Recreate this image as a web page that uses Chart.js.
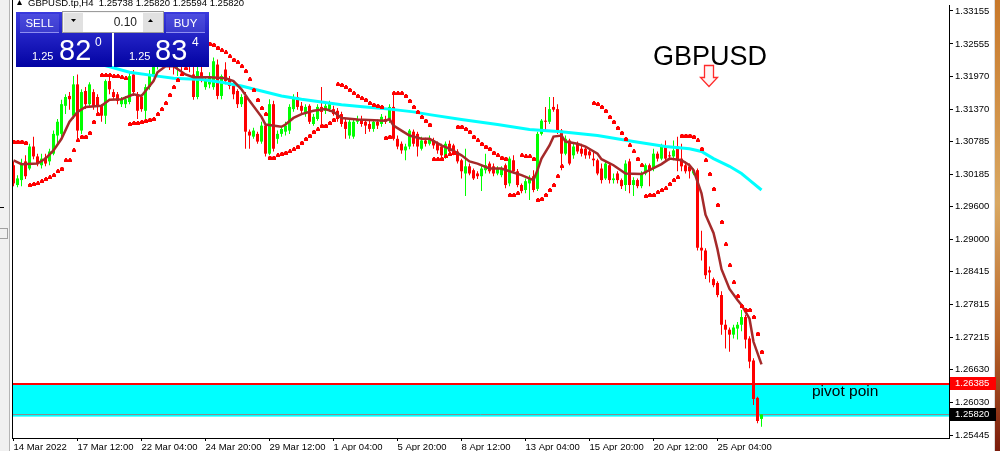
<!DOCTYPE html>
<html lang="en">
<head>
<meta charset="utf-8">
<title>GBPUSD H4</title>
<script src="https://cdn.jsdelivr.net/npm/chart.js@4.4.1/dist/chart.umd.min.js"></script>
<style>
  html, body { margin: 0; padding: 0; background: #ffffff; overflow: hidden; }
  canvas { display: block; }
</style>
</head>
<body>
<canvas id="chart" width="1000" height="451"></canvas>
<script>
// GBPUSD.tp H4 candles (one entry per bar)
const opens = [
  1.3035,1.2999,1.3008,1.3042,1.3029,1.3069,1.3051,1.3035,1.3049,1.3042,
  1.3056,1.3089,1.3092,1.3143,1.3161,1.3125,1.3182,1.3098,1.3170,1.3146,
  1.3168,1.3159,1.3143,1.3125,1.3188,1.3168,1.3164,1.3146,1.3146,1.3150,
  1.3200,1.3164,1.3159,1.3134,1.3177,1.3200,1.3218,1.3233,1.3227,1.3240,
  1.3222,1.3215,1.3227,1.3218,1.3236,1.3200,1.3159,1.3204,1.3177,1.3182,
  1.3177,1.3218,1.3161,1.3209,1.3191,1.3179,1.3170,1.3146,1.3161,1.3096,
  1.3087,1.3092,1.3078,1.3107,1.3056,1.3146,1.3083,1.3092,1.3096,1.3098,
  1.3137,1.3159,1.3143,1.3128,1.3143,1.3110,1.3119,1.3141,1.3134,1.3137,
  1.3137,1.3134,1.3128,1.3114,1.3089,1.3087,1.3114,1.3119,1.3114,1.3110,
  1.3101,1.3114,1.3110,1.3119,1.3116,1.3141,1.3083,1.3074,1.3062,1.3069,
  1.3096,1.3092,1.3065,1.3080,1.3074,1.3080,1.3074,1.3069,1.3051,1.3074,
  1.3071,1.3060,1.3044,1.3020,1.3033,1.3026,1.3020,1.3015,1.3026,1.3038,
  1.3033,1.3020,1.3017,1.3035,1.3002,1.3044,1.3024,1.2999,1.2990,1.3002,
  1.3015,1.2992,1.3092,1.3116,1.3114,1.3141,1.3137,1.3098,1.3056,1.3080,
  1.3053,1.3074,1.3065,1.3065,1.3060,1.3047,1.3044,1.3029,1.3011,1.3035,
  1.3008,1.3020,1.3008,1.2999,1.3042,1.2999,1.3008,1.2997,1.3020,1.3035,
  1.3029,1.3056,1.3047,1.3069,1.3053,1.3051,1.3069,1.3047,1.3035,1.3033,
  1.3020,1.3026,1.2885,1.2880,1.2844,1.2828,1.2821,1.2799,1.2745,1.2736,
  1.2727,1.2738,1.2745,1.2759,1.2720,1.2680,1.2612,1.25738
];
const highs = [
  1.3042,1.3017,1.3047,1.3053,1.3074,1.3087,1.3056,1.3056,1.3056,1.3065,
  1.3098,1.3119,1.3154,1.3164,1.3168,1.3197,1.3200,1.3173,1.3177,1.3186,
  1.3173,1.3164,1.3146,1.3191,1.3200,1.3173,1.3168,1.3159,1.3161,1.3204,
  1.3208,1.3168,1.3164,1.3182,1.3208,1.3227,1.3240,1.3245,1.3251,1.3245,
  1.3236,1.3236,1.3240,1.3245,1.3245,1.3218,1.3218,1.3215,1.3197,1.3204,
  1.3231,1.3227,1.3200,1.3222,1.3197,1.3186,1.3173,1.3164,1.3168,1.3100,
  1.3103,1.3096,1.3114,1.3110,1.3155,1.3152,1.3098,1.3107,1.3114,1.3146,
  1.3164,1.3168,1.3150,1.3146,1.3146,1.3128,1.3146,1.3177,1.3150,1.3152,
  1.3143,1.3139,1.3132,1.3119,1.3119,1.3119,1.3125,1.3125,1.3119,1.3116,
  1.3119,1.3118,1.3128,1.3125,1.3146,1.3164,1.3089,1.3078,1.3074,1.3101,
  1.3100,1.3096,1.3087,1.3085,1.3089,1.3085,1.3078,1.3074,1.3078,1.3080,
  1.3074,1.3064,1.3047,1.3065,1.3038,1.3029,1.3024,1.3035,1.3056,1.3042,
  1.3038,1.3033,1.3033,1.3038,1.3051,1.3053,1.3028,1.3002,1.3011,1.3017,
  1.3026,1.3096,1.3119,1.3141,1.3159,1.3159,1.3146,1.3101,1.3089,1.3083,
  1.3074,1.3078,1.3074,1.3069,1.3065,1.3062,1.3047,1.3038,1.3042,1.3038,
  1.3020,1.3024,1.3011,1.3044,1.3047,1.3013,1.3011,1.3024,1.3038,1.3038,
  1.3065,1.3060,1.3074,1.3080,1.3060,1.3080,1.3087,1.3074,1.3042,1.3038,
  1.3029,1.3029,1.2916,1.2884,1.2851,1.2831,1.2824,1.2806,1.2754,1.2740,
  1.2745,1.2750,1.2772,1.2763,1.2724,1.2684,1.2614,1.2582
];
const lows = [
  1.2997,1.2995,1.2997,1.3010,1.3026,1.3046,1.3033,1.3029,1.3033,1.3035,
  1.3053,1.3074,1.3083,1.3128,1.3136,1.3119,1.3083,1.3092,1.3137,1.3141,
  1.3136,1.3128,1.3114,1.3110,1.3164,1.3154,1.3146,1.3141,1.3139,1.3146,
  1.3161,1.3119,1.3132,1.3119,1.3172,1.3195,1.3209,1.3215,1.3218,1.3208,
  1.3200,1.3197,1.3204,1.3209,1.3204,1.3154,1.3155,1.3186,1.3172,1.3175,
  1.3172,1.3155,1.3155,1.3182,1.3173,1.3155,1.3139,1.3141,1.3065,1.3065,
  1.3083,1.3074,1.3074,1.3051,1.3053,1.3060,1.3074,1.3087,1.3089,1.3092,
  1.3132,1.3136,1.3128,1.3123,1.3110,1.3107,1.3116,1.3105,1.3128,1.3132,
  1.3125,1.3114,1.3105,1.3083,1.3083,1.3083,1.3110,1.3105,1.3092,1.3096,
  1.3096,1.3101,1.3105,1.3110,1.3112,1.3080,1.3064,1.3056,1.3044,1.3064,
  1.3069,1.3051,1.3062,1.3069,1.3071,1.3065,1.3056,1.3047,1.3047,1.3056,
  1.3053,1.3038,1.3011,1.2979,1.3017,1.3008,1.3010,1.2988,1.3020,1.3020,
  1.3015,1.3017,1.3013,1.2993,1.2997,1.3020,1.2995,1.2984,1.2984,1.2972,
  1.2986,1.2988,1.3089,1.3098,1.3110,1.3132,1.3092,1.3026,1.3053,1.3035,
  1.3047,1.3056,1.3051,1.3047,1.3047,1.3033,1.3017,1.3002,1.3008,1.3002,
  1.3002,1.3002,1.2992,1.2988,1.2984,1.2979,1.2993,1.2993,1.3017,1.2997,
  1.3024,1.3042,1.3044,1.3042,1.3044,1.3044,1.3024,1.3024,1.3020,1.3011,
  1.3017,1.2880,1.2862,1.2828,1.2822,1.2813,1.2795,1.2727,1.2702,1.2696,
  1.2720,1.2718,1.2733,1.2702,1.2666,1.2599,1.2566,1.25594
];
const closes = [
  1.3002,1.3011,1.3038,1.3015,1.3069,1.3051,1.3038,1.3047,1.3038,1.3060,
  1.3092,1.3114,1.3146,1.3159,1.3155,1.3182,1.3098,1.3168,1.3146,1.3182,
  1.3143,1.3141,1.3125,1.3188,1.3173,1.3159,1.3152,1.3154,1.3155,1.3197,
  1.3168,1.3134,1.3137,1.3177,1.3200,1.3218,1.3233,1.3227,1.3240,1.3222,
  1.3215,1.3227,1.3218,1.3236,1.3215,1.3159,1.3206,1.3191,1.3191,1.3197,
  1.3224,1.3161,1.3197,1.3188,1.3179,1.3164,1.3146,1.3159,1.3096,1.3089,
  1.3098,1.3078,1.3107,1.3056,1.3146,1.3065,1.3092,1.3101,1.3107,1.3141,
  1.3159,1.3141,1.3134,1.3141,1.3114,1.3123,1.3141,1.3132,1.3143,1.3146,
  1.3128,1.3119,1.3110,1.3101,1.3114,1.3114,1.3119,1.3110,1.3107,1.3101,
  1.3114,1.3107,1.3123,1.3114,1.3141,1.3083,1.3069,1.3062,1.3069,1.3098,
  1.3074,1.3069,1.3080,1.3074,1.3083,1.3071,1.3062,1.3053,1.3074,1.3060,
  1.3060,1.3042,1.3024,1.3033,1.3020,1.3011,1.3015,1.3029,1.3035,1.3024,
  1.3020,1.3029,1.3029,1.2999,1.3047,1.3024,1.2999,1.2988,1.3006,1.3011,
  1.2990,1.3092,1.3116,1.3114,1.3137,1.3136,1.3096,1.3056,1.3083,1.3038,
  1.3069,1.3060,1.3056,1.3053,1.3053,1.3044,1.3020,1.3008,1.3038,1.3008,
  1.3011,1.3008,1.2997,1.3038,1.2999,1.3008,1.2997,1.3020,1.3035,1.3026,
  1.3056,1.3047,1.3069,1.3047,1.3051,1.3062,1.3044,1.3033,1.3024,1.3024,
  1.3026,1.2885,1.2880,1.2835,1.2840,1.2817,1.2799,1.2745,1.2736,1.2727,
  1.2740,1.2745,1.2759,1.2718,1.2678,1.2610,1.2570,1.2582
];

// Parabolic SAR, one per bar (null where no dot shows)
const sarValues = [
  1.3078,1.3078,1.3078,1.3076,1.2999,1.3001,1.3002,1.3006,1.3010,1.3013,
  1.3017,1.3024,1.3029,1.3044,1.3044,1.3062,1.3080,1.3087,1.3087,1.3094,
  1.3114,1.3128,1.3199,1.3199,1.3199,1.3197,1.3197,1.3195,1.3193,1.3110,
  1.3112,1.3112,1.3114,1.3116,1.3118,1.3119,1.3128,1.3137,1.3148,1.3163,
  1.3177,1.3190,1.3200,1.3211,1.3222,1.3258,1.3258,1.3258,1.3258,1.3256,
  1.3254,1.3249,1.3244,1.3240,1.3233,1.3227,1.3222,1.3215,1.3206,1.3191,
  1.3172,1.3154,1.3139,1.3128,1.3049,1.3049,1.3053,1.3056,1.3058,1.3060,
  1.3064,1.3069,1.3076,1.3083,1.3089,1.3096,1.3100,1.3107,1.3107,1.3112,
  1.3118,1.3182,1.3181,1.3177,1.3172,1.3166,1.3161,1.3157,1.3154,1.3148,
  1.3145,1.3143,1.3141,1.3085,1.3087,1.3166,1.3166,1.3166,1.3161,1.3152,
  1.3141,1.3132,1.3123,1.3116,1.3109,1.3046,1.3046,1.3047,1.3051,1.3055,
  1.3058,1.3105,1.3105,1.3101,1.3096,1.3087,1.3080,1.3074,1.3069,1.3065,
  1.3058,1.3053,1.3049,1.3047,1.2981,1.2981,1.2984,1.3053,1.3051,1.3051,
  1.3047,1.2972,1.2974,1.2981,1.2990,1.2999,1.3015,1.3033,null,null,
  null,null,null,null,null,1.3148,1.3146,1.3141,1.3134,1.3123,
  1.3114,1.3103,1.3094,1.3083,1.3071,1.3060,1.3047,1.3035,1.2979,1.2981,
  1.2981,1.2986,1.2990,1.2993,1.3001,1.3008,1.3013,1.3089,1.3089,1.3089,
  1.3087,1.3080,1.3065,1.3044,1.3019,1.2992,1.2963,1.2932,1.2891,1.2853,
  1.2822,1.2797,1.2779,1.2772,1.2772,1.2759,1.2729,1.2696
];

// brown fast moving average, sampled at these bars
const fastMaBars = [0,2,6,8,10,12,14,16,18,22,24,27,30,32,33,35,36,38,40,43,45,49,53,55,57,59,62,63,67,68,
  70,72,75,78,80,82,86,93,94,95,97,99,102,104,107,109,112,114,116,119,122,124,127,130,131,132,134,135,137,138,
  141,143,146,147,150,153,157,159,162,164,167,169,170,172,173,175,176,177,179,181,182,184,185,187];
const fastMaValues = [1.3044,1.3037,1.3038,1.3047,1.3062,1.3083,1.3114,1.3132,1.3141,1.3143,1.3154,1.3155,1.3164,1.3161,1.3170,
  1.3188,1.3204,1.3215,1.3215,1.3200,1.3195,1.3195,1.3193,1.3188,1.3173,1.3152,1.3123,1.3109,1.3105,1.3109,
  1.3121,1.3128,1.3134,1.3137,1.3132,1.3121,1.3118,1.3116,1.3119,1.3107,1.3098,1.3089,1.3083,1.3083,1.3071,
  1.3065,1.3053,1.3042,1.3038,1.3029,1.3029,1.3024,1.3017,1.3008,1.3026,1.3047,1.3071,1.3087,1.3089,1.3078,
  1.3074,1.3069,1.3056,1.3046,1.3035,1.3020,1.3019,1.3026,1.3037,1.3047,1.3044,1.3035,1.3026,1.2984,1.2945,
  1.2912,1.2882,1.2846,1.2810,1.2790,1.2781,1.2756,1.2714,1.2673];

// aqua slow moving average
const slowMaBars = [22,29,36,40,47,52,57,62,67,72,77,82,88,94,100,104,112,121,129,137,146,155,163,169,172,175,179,182,184,187];
const slowMaValues = [1.3218,1.3204,1.3197,1.3193,1.3191,1.3186,1.3179,1.3170,1.3161,1.3155,1.3150,1.3145,1.3141,1.3137,1.3132,
  1.3127,1.3118,1.3109,1.3100,1.3096,1.3089,1.3078,1.3069,1.3065,1.3060,1.3047,1.3033,1.3020,1.3008,1.2990];

const timeBars = [0,16,32,48,64,80,96,112,128,144,160,176];
const timeLabels = ['14 Mar 2022','17 Mar 12:00','22 Mar 04:00','24 Mar 20:00','29 Mar 12:00','1 Apr 04:00',
  '5 Apr 20:00','8 Apr 12:00','13 Apr 04:00','15 Apr 20:00','20 Apr 12:00','25 Apr 04:00'];
const priceTicks = [1.33155,1.32555,1.3197,1.3137,1.30785,1.30185,1.296,1.29,1.28415,1.27815,1.27215,1.2663,1.2603,1.25445];

const symbol = 'GBPUSD';
const levelPrice = 1.26385;     // red horizontal line
const zoneBottomPrice = 1.2578; // bottom of the aqua rectangle
const bidPrice = 1.2582;
const quote = { bidHead: '1.25', bidBig: '82', bidPip: '0', askHead: '1.25', askBig: '83', askPip: '4', lot: '0.10' };

const FONT = "'Liberation Sans', Arial, sans-serif";
Chart.defaults.font.family = FONT;

const barColors = opens.map((o, i) => (closes[i] >= o ? '#00ff00' : '#ff0000'));

// small MT4 style SAR dot
const sarDot = document.createElement('canvas');
sarDot.width = 5;
sarDot.height = 4;
const sd = sarDot.getContext('2d');
sd.fillStyle = '#ff0000';
sd.fillRect(1, 1, 4, 3);
sd.fillRect(2, 0, 2, 1);

const sarPoints = [];
sarValues.forEach((v, i) => { if (v !== null) sarPoints.push({ x: i, y: v }); });

function drawTradePanel(c) {
  const boxes = [
    { x: 16, w: 96, label: 'SELL', lx: 20, head: quote.bidHead, big: quote.bidBig, pip: quote.bidPip, hx: 32, bx: 59, px: 95 },
    { x: 114, w: 95, label: 'BUY', lx: 166, head: quote.askHead, big: quote.askBig, pip: quote.askPip, hx: 129, bx: 155, px: 192 },
  ];
  boxes.forEach((b) => {
    const g = c.createLinearGradient(0, 12, 0, 67);
    g.addColorStop(0, '#3a3ade');
    g.addColorStop(1, '#0202a2');
    c.fillStyle = g;
    c.fillRect(b.x, 12, b.w, 55);
    c.fillStyle = 'rgba(255,255,255,0.10)';
    c.fillRect(b.lx, 14, 39, 18);
    c.fillStyle = '#8e8ef0';
    c.fillRect(b.lx, 32, 39, 1);
    c.fillStyle = '#ffffff';
    c.textBaseline = 'alphabetic';
    c.textAlign = 'center';
    c.font = `11.5px ${FONT}`;
    c.fillText(b.label, b.lx + 19.5, 27);
    c.textAlign = 'left';
    c.font = `11px ${FONT}`;
    c.fillText(b.head, b.hx, 60);
    c.font = `29px ${FONT}`;
    c.fillText(b.big, b.bx, 60);
    c.font = `12px ${FONT}`;
    c.fillText(b.pip, b.px, 46);
  });

  // lot size control
  c.fillStyle = '#f4f4f4';
  c.fillRect(62, 11, 102, 22);
  c.strokeStyle = '#9c9c9c';
  c.lineWidth = 1;
  c.strokeRect(62.5, 11.5, 101, 21);
  c.fillStyle = '#e1e1e1';
  c.fillRect(64, 13, 19, 19);
  c.fillRect(143, 13, 20, 19);
  c.fillStyle = '#ffffff';
  c.fillRect(83, 13, 60, 19);
  c.fillStyle = '#000000';
  c.beginPath(); c.moveTo(71, 19); c.lineTo(76, 19); c.lineTo(73.5, 22); c.closePath(); c.fill();
  c.beginPath(); c.moveTo(148, 22); c.lineTo(153, 22); c.lineTo(150.5, 19); c.closePath(); c.fill();
  c.fillStyle = '#222222';
  c.font = `12px ${FONT}`;
  c.textAlign = 'right';
  c.fillText(quote.lot, 137, 26);
}

const terminalDecor = {
  id: 'terminalDecor',
  beforeDraw(chart) {
    const c = chart.ctx;
    c.save();
    c.fillStyle = '#ffffff';
    c.fillRect(0, 0, chart.width, chart.height);
    c.restore();
  },
  beforeDatasetsDraw(chart) {
    const c = chart.ctx, a = chart.chartArea, ys = chart.scales.y;
    const top = ys.getPixelForValue(levelPrice);
    const bottom = ys.getPixelForValue(zoneBottomPrice);
    c.save();
    c.fillStyle = '#00ffff';
    c.fillRect(a.left, top, a.right - a.left, bottom - top);
    c.fillStyle = '#ff0000';
    c.fillRect(a.left, Math.round(top), a.right - a.left, 2);
    const bid = Math.round(ys.getPixelForValue(bidPrice)) + 0.5;
    c.strokeStyle = '#8c8c8c';
    c.lineWidth = 1;
    c.beginPath();
    c.moveTo(a.left, bid);
    c.lineTo(a.right, bid);
    c.stroke();
    c.restore();
  },
  afterDraw(chart) {
    const c = chart.ctx, a = chart.chartArea, ys = chart.scales.y;
    const last = closes.length - 1;
    c.save();

    // left window frame
    c.fillStyle = '#f0f0f0';
    c.fillRect(0, 0, 9, chart.height);
    c.fillStyle = '#b4b4b4';
    c.fillRect(9, 0, 1, chart.height);
    c.fillStyle = '#000000';
    c.fillRect(0, 207, 4, 1);
    c.strokeStyle = '#a0a0a0';
    c.lineWidth = 1;
    c.strokeRect(-0.5, 228.5, 8, 10);
    c.fillRect(a.left, 0, 1, a.bottom);

    // neighbouring window on the right
    const g = c.createLinearGradient(0, 0, 0, chart.height);
    g.addColorStop(0, '#c8782a');
    g.addColorStop(0.45, '#d9a862');
    g.addColorStop(0.75, '#b8652a');
    g.addColorStop(1, '#7a1c0c');
    c.fillStyle = '#dcdcdc';
    c.fillRect(994, 0, 1, chart.height);
    c.fillStyle = g;
    c.fillRect(995, 0, 5, chart.height);

    // price tags on the axis
    c.font = `9.5px ${FONT}`;
    c.textAlign = 'left';
    c.textBaseline = 'middle';
    [[levelPrice, '#ff0000'], [bidPrice, '#000000']].forEach(([p, bg]) => {
      const yy = Math.round(ys.getPixelForValue(p));
      c.fillStyle = bg;
      c.fillRect(950, yy - 6, 46, 13);
      c.fillStyle = '#ffffff';
      c.fillText(p.toFixed(5), 955, yy + 0.5);
    });

    // chart caption
    c.textBaseline = 'alphabetic';
    c.fillStyle = '#000000';
    c.beginPath(); c.moveTo(17, 5); c.lineTo(22, 5); c.lineTo(19.5, 0); c.closePath(); c.fill();
    c.font = `9.5px ${FONT}`;
    c.fillText(`${symbol}.tp,H4  ${opens[last].toFixed(5)} ${highs[last].toFixed(5)} ${lows[last].toFixed(5)} ${closes[last].toFixed(5)}`, 28, 6);

    // symbol label and arrow
    c.font = `27px ${FONT}`;
    c.fillText(symbol, 653, 65);
    c.beginPath();
    c.moveTo(704.5, 65.5); c.lineTo(713.5, 65.5); c.lineTo(713.5, 77.5); c.lineTo(717.5, 77.5);
    c.lineTo(709, 86.5); c.lineTo(700.5, 77.5); c.lineTo(704.5, 77.5); c.closePath();
    c.fillStyle = '#fff6f6';
    c.fill();
    c.strokeStyle = '#ff2a2a';
    c.lineWidth = 1.3;
    c.stroke();

    // pivot zone caption
    c.fillStyle = '#000000';
    c.font = `15.5px ${FONT}`;
    c.fillText('pivot poin', 812, 396);

    drawTradePanel(c);
    c.restore();
  }
};

new Chart(document.getElementById('chart'), {
  type: 'bar',
  data: {
    datasets: [
      {
        label: 'wicks',
        data: opens.map((o, i) => ({ x: i, y: [lows[i], highs[i]] })),
        backgroundColor: barColors,
        barThickness: 1,
        grouped: false,
        inflateAmount: 0,
        order: 5
      },
      {
        label: 'bodies',
        data: opens.map((o, i) => ({ x: i, y: [o, closes[i]] })),
        backgroundColor: barColors,
        barThickness: 3,
        minBarLength: 1,
        grouped: false,
        inflateAmount: 0,
        order: 4
      },
      {
        type: 'line',
        label: 'slow MA',
        data: slowMaBars.map((b, j) => ({ x: b, y: slowMaValues[j] })),
        borderColor: '#00ffff',
        borderWidth: 3,
        pointRadius: 0,
        tension: 0,
        order: 3
      },
      {
        type: 'line',
        label: 'fast MA',
        data: fastMaBars.map((b, j) => ({ x: b, y: fastMaValues[j] })),
        borderColor: '#a52a2a',
        borderWidth: 2.5,
        pointRadius: 0,
        tension: 0,
        order: 2
      },
      {
        type: 'scatter',
        label: 'SAR',
        data: sarPoints,
        pointStyle: sarDot,
        pointRadius: 3,
        order: 1
      }
    ]
  },
  options: {
    responsive: false,
    animation: false,
    devicePixelRatio: 1,
    layout: { padding: { left: 12, top: 0, right: 0, bottom: 0 } },
    plugins: { legend: { display: false }, tooltip: { enabled: false } },
    scales: {
      x: {
        type: 'linear',
        min: -0.375,
        max: 233.875,
        offset: false,
        bounds: 'data',
        afterBuildTicks: (s) => { s.ticks = timeBars.map((v) => ({ value: v })); },
        afterFit: (s) => { s.height = 13; s.paddingLeft = 0; s.paddingRight = 0; },
        grid: { drawOnChartArea: false, offset: false, tickLength: 3, color: '#000000' },
        border: { color: '#000000', width: 1 },
        ticks: {
          autoSkip: false,
          maxRotation: 0,
          minRotation: 0,
          align: 'start',
          padding: 1,
          color: '#000000',
          font: { family: FONT, size: 9.5 },
          callback: (v, idx) => timeLabels[idx]
        }
      },
      y: {
        type: 'linear',
        position: 'right',
        min: 1.25391,
        max: 1.33263,
        beginAtZero: false,
        bounds: 'data',
        afterBuildTicks: (s) => { s.ticks = priceTicks.map((v) => ({ value: v })); },
        afterFit: (s) => { s.width = 51; s.paddingTop = 0; s.paddingBottom = 0; },
        grid: { drawOnChartArea: false, tickLength: 4, color: '#000000' },
        border: { color: '#000000', width: 1 },
        ticks: {
          padding: 2,
          color: '#000000',
          font: { family: FONT, size: 9.5 },
          callback: (v) => Number(v).toFixed(5)
        }
      }
    }
  },
  plugins: [terminalDecor]
});
</script>
</body>
</html>
